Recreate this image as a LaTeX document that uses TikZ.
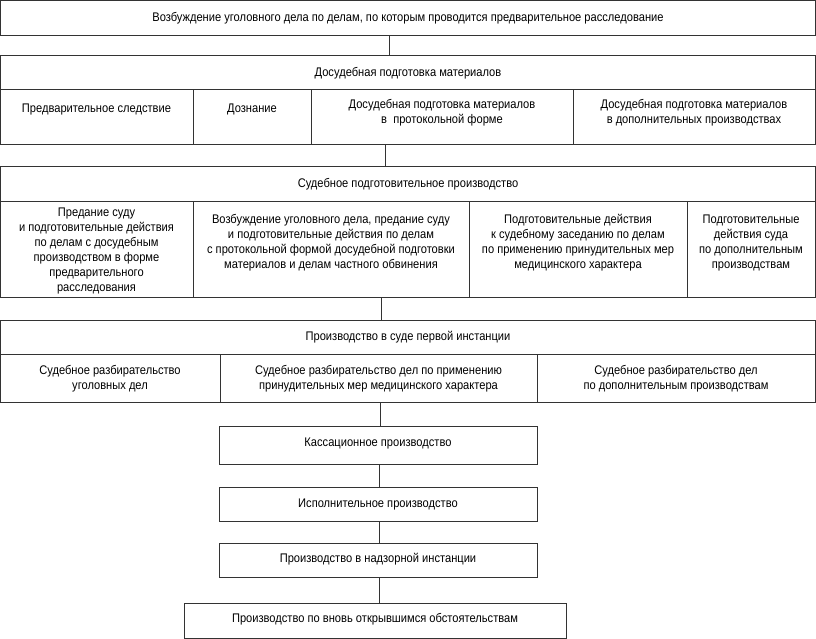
\documentclass[tikz,border=0pt]{standalone}
\usepackage{fontspec}
\setmainfont{Liberation Sans}[FakeStretch=0.89]
\usetikzlibrary{calc}
\tikzset{
  box/.style={draw=black!80, line width=0.8pt, inner sep=0pt},
  txt/.style={align=center, inner sep=0pt, font=\fontsize{12.5}{15}\selectfont, text=black,
    execute at begin node=\strut, execute at end node=\strut},
  conn/.style={draw=black!80, line width=0.8pt}
}
\newcommand\bx[5]{\node[box, minimum width={(#4-#2)*1pt}, minimum height={(#5-#3)*1pt}] (#1) at ({(#2+#4)/2},{(#3+#5)/2}) {};}
\begin{document}
\begin{tikzpicture}[x=1pt,y=-1pt]
\useasboundingbox (0,0) rectangle (816,639);
% boxes
\bx{b1}{0.5}{0.5}{815.5}{35}
\bx{b2h}{0.5}{55}{815.5}{89}
\bx{b2a}{0.5}{89}{193}{144}
\bx{b2b}{193}{89}{311}{144}
\bx{b2c}{311}{89}{573}{144}
\bx{b2d}{573}{89}{815.5}{144}
\bx{b3h}{0.5}{166}{815.5}{201}
\bx{b3a}{0.5}{201}{193}{297}
\bx{b3b}{193}{201}{469}{297}
\bx{b3c}{469}{201}{687}{297}
\bx{b3d}{687}{201}{815.5}{297}
\bx{b4h}{0.5}{320}{815.5}{354}
\bx{b4a}{0.5}{354}{220}{402}
\bx{b4b}{220}{354}{537}{402}
\bx{b4c}{537}{354}{815.5}{402}
\bx{bk}{219}{426}{537}{464}
\bx{bi}{219}{487}{537}{521}
\bx{bn}{219}{543}{537}{577}
\bx{bv}{184}{603}{566}{638}
% texts
\node[txt] (t1) at (408,18.5) {Возбуждение уголовного дела по делам, по которым проводится предварительное расследование};
\node[txt] (t2h) at (408,74) {Досудебная подготовка материалов};
\node[txt] (t2a) at (96.5,110) {Предварительное следствие};
\node[txt] (t2b) at (252,110) {Дознание};
\node[txt] (t2c) at (442,114) {Досудебная подготовка материалов\\в\ \ протокольной форме};
\node[txt] (t2d) at (694,114) {Досудебная подготовка материалов\\в дополнительных производствах};
\node[txt] (t3h) at (408,184.5) {Судебное подготовительное производство};
\node[txt] (t3a) at (96.5,252) {Предание суду\\и подготовительные действия\\по делам с досудебным\\производством в форме\\предварительного\\расследования};
\node[txt] (t3b) at (331,243.5) {Возбуждение уголовного дела, предание суду\\и подготовительные действия по делам\\с протокольной формой досудебной подготовки\\материалов и делам частного обвинения};
\node[txt] (t3c) at (578,243.5) {Подготовительные действия\\к судебному заседанию по делам\\по применению принудительных мер\\медицинского характера};
\node[txt] (t3d) at (751,243.5) {Подготовительные\\действия суда\\по дополнительным\\производствам};
\node[txt] (t4h) at (408,337.5) {Производство в суде первой инстанции};
\node[txt] (t4a) at (110,379.5) {Судебное разбирательство\\уголовных дел};
\node[txt] (t4b) at (378.5,379.5) {Судебное разбирательство дел по применению\\принудительных мер медицинского характера};
\node[txt] (t4c) at (676,379.5) {Судебное разбирательство дел\\по дополнительным производствам};
\node[txt] (tk) at (378,443.5) {Кассационное производство};
\node[txt] (ti) at (378,504.5) {Исполнительное производство};
\node[txt] (tn) at (378,559.5) {Производство в надзорной инстанции};
\node[txt] (tv) at (375,619.5) {Производство по вновь открывшимся обстоятельствам};
% connectors
\coordinate (cx1) at (389,0);
\coordinate (cx2) at (385,0);
\coordinate (cx3) at (381,0);
\coordinate (cx4) at (380,0);
\coordinate (cx5) at (379,0);
\draw[conn] (b1.south -| cx1) -- (b2h.north -| cx1);
\draw[conn] (b2c.south -| cx2) -- (b3h.north -| cx2);
\draw[conn] (b3b.south -| cx3) -- (b4h.north -| cx3);
\draw[conn] (b4b.south -| cx4) -- (bk.north -| cx4);
\draw[conn] (bk.south -| cx5) -- (bi.north -| cx5);
\draw[conn] (bi.south -| cx5) -- (bn.north -| cx5);
\draw[conn] (bn.south -| cx5) -- (bv.north -| cx5);
\end{tikzpicture}
\end{document}
